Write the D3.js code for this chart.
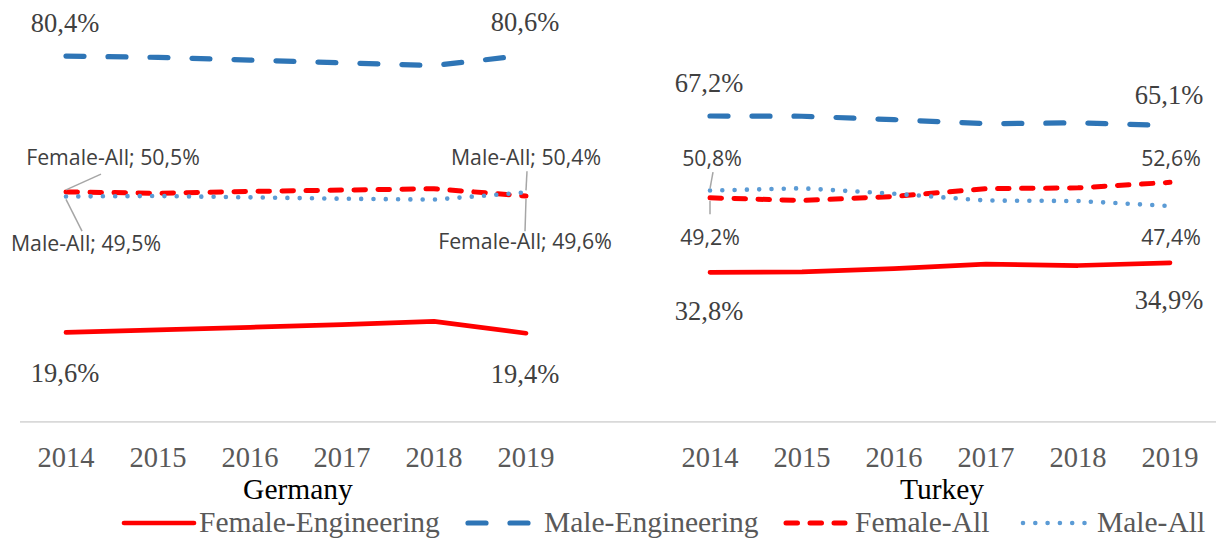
<!doctype html>
<html lang="en">
<head>
<meta charset="utf-8">
<title>Engineering share Germany / Turkey</title>
<script src="https://cdn.jsdelivr.net/npm/d3@7"></script>
<style>
  body { margin: 0; background: #fff; }
  svg { display: block; }
</style>
</head>
<body>
<script>

// categories
var years = ["2014", "2015", "2016", "2017", "2018", "2019"];
var countries = ["Germany", "Turkey"];

// series values, in percent
var femaleEngGermany = [19.6, 20.15, 20.7, 21.3, 22.0, 19.4];
var maleEngGermany   = [80.4, 80.1, 79.5, 78.9, 78.3, 80.6];
var femaleAllGermany = [50.5, 50.2, 50.6, 50.9, 51.2, 49.6];
var maleAllGermany   = [49.5, 49.6, 49.3, 49.0, 48.8, 50.4];

var femaleEngTurkey = [32.8, 32.9, 33.6, 34.6, 34.3, 34.9];
var maleEngTurkey   = [67.2, 67.15, 66.4, 65.5, 65.7, 65.1];
var femaleAllTurkey = [49.2, 48.6, 49.5, 51.2, 51.4, 52.6];
var maleAllTurkey   = [50.8, 51.3, 50.1, 48.6, 48.5, 47.4];

var seriesNames = ["Female-Engineering", "Male-Engineering", "Female-All", "Male-All"];

var width = 1216;
var height = 543;

var styles = {
    "Female-Engineering": { color: "#FF0000", w: 4.7, dash: null },
    "Male-Engineering":   { color: "#2E75B6", w: 5.2, dash: "18,24" },
    "Female-All":         { color: "#FF0000", w: 5.0, dash: "11.5,12.5" },
    "Male-All":           { color: "#5B9BD5", w: 4.6, dash: "0,12.3" }
};

var data = {
    "Germany": {
        "Female-Engineering": femaleEngGermany,
        "Male-Engineering": maleEngGermany,
        "Female-All": femaleAllGermany,
        "Male-All": maleAllGermany
    },
    "Turkey": {
        "Female-Engineering": femaleEngTurkey,
        "Male-Engineering": maleEngTurkey,
        "Female-All": femaleAllTurkey,
        "Male-All": maleAllTurkey
    }
};

// one category axis, with an empty slot between the two countries
var slots = years.map(function(y){ return "Germany|" + y; })
    .concat(["gap"])
    .concat(years.map(function(y){ return "Turkey|" + y; }));

var x = d3.scaleBand().domain(slots).range([20, 1216]).paddingInner(0).paddingOuter(0);
var y = d3.scaleLinear().domain([0, 90]).range([421.4, 12.4]);

function px(country, i) { return x(country + "|" + years[i]) + x.bandwidth() / 2; }

var svg = d3.select("body").append("svg").attr("width", width).attr("height", height);

// category axis line
svg.append("line")
    .attr("x1", x.range()[0]).attr("x2", x.range()[1])
    .attr("y1", y(0) + 0.5).attr("y2", y(0) + 0.5)
    .attr("stroke", "#D9D9D9").attr("stroke-width", 1.6);

var serif = "'Liberation Serif', 'Times New Roman', serif";
var sans = "'Open Sans', 'Noto Sans', sans-serif";

// year labels and country names
countries.forEach(function(c){
    svg.selectAll(null).data(years).enter().append("text")
        .attr("x", function(d, i){ return px(c, i); })
        .attr("y", 467)
        .attr("text-anchor", "middle")
        .attr("font-family", serif).attr("font-size", 28.5)
        .attr("fill", "#595959")
        .text(function(d){ return d; });

    svg.append("text")
        .attr("x", (px(c, 0) + px(c, 5)) / 2 + 2)
        .attr("y", 499)
        .attr("text-anchor", "middle")
        .attr("font-family", serif).attr("font-size", 29.5)
        .attr("fill", "#000")
        .text(c);
});

// lines
var line = d3.line()
    .x(function(d){ return d.x; })
    .y(function(d){ return y(d.v); });

countries.forEach(function(c){
    seriesNames.forEach(function(s){
        var pts = data[c][s].map(function(v, i){ return { x: px(c, i), v: v }; });
        var st = styles[s];
        svg.append("path")
            .datum(pts)
            .attr("d", line)
            .attr("fill", "none")
            .attr("stroke", st.color)
            .attr("stroke-width", st.w)
            .attr("stroke-linecap", "round")
            .attr("stroke-linejoin", "round")
            .attr("stroke-dasharray", st.dash);
    });
});

function fmt(v) { return d3.format(".1f")(v).replace(".", ",") + "%"; }

// serif end labels for engineering series
var engLabels = [
    { c: "Germany", s: "Male-Engineering", i: 0, dy: -24 },
    { c: "Germany", s: "Male-Engineering", i: 5, dy: -24 },
    { c: "Germany", s: "Female-Engineering", i: 0, dy: 50 },
    { c: "Germany", s: "Female-Engineering", i: 5, dy: 50 },
    { c: "Turkey", s: "Male-Engineering", i: 0, dy: -24 },
    { c: "Turkey", s: "Male-Engineering", i: 5, dy: -22 },
    { c: "Turkey", s: "Female-Engineering", i: 0, dy: 48 },
    { c: "Turkey", s: "Female-Engineering", i: 5, dy: 46 }
];

svg.selectAll(null).data(engLabels).enter().append("text")
    .attr("x", function(d){ return px(d.c, d.i) - 1; })
    .attr("y", function(d){ return y(data[d.c][d.s][d.i]) + d.dy; })
    .attr("text-anchor", "middle")
    .attr("font-family", serif).attr("font-size", 26.5)
    .attr("fill", "#404040")
    .text(function(d){ return fmt(data[d.c][d.s][d.i]); });

// sans labels for the "All" series, with leader lines
var rowAbove = y(50) - 29;
var rowBelow = y(50) + 57;

var allLabels = [
    { c: "Germany", s: "Female-All", i: 0, name: true, ly: rowAbove, dx: 47, lead: [35, 9] },
    { c: "Germany", s: "Male-All", i: 0, name: true, ly: rowBelow, dx: 20, lead: [16, -20] },
    { c: "Germany", s: "Male-All", i: 5, name: true, ly: rowAbove, dx: 0, lead: [1, 6] },
    { c: "Germany", s: "Female-All", i: 5, name: true, ly: rowBelow - 2, dx: -1, lead: [-1, -18] },
    { c: "Turkey", s: "Male-All", i: 0, name: false, ly: rowAbove + 1, dx: 2, lead: [3, 6] },
    { c: "Turkey", s: "Female-All", i: 0, name: false, ly: rowBelow - 6, dx: 0, lead: [0, -31] },
    { c: "Turkey", s: "Female-All", i: 5, name: false, ly: rowAbove + 1, dx: 1, lead: null },
    { c: "Turkey", s: "Male-All", i: 5, name: false, ly: rowBelow - 6, dx: 1, lead: null }
];

allLabels.forEach(function(d){
    var v = data[d.c][d.s][d.i];
    var x0 = px(d.c, d.i);
    var y0 = y(v);
    if (d.lead) {
        var below = d.ly > y0;
        svg.append("line")
            .attr("x1", x0).attr("y1", y0 + (below ? 3 : -2))
            .attr("x2", x0 + d.lead[0]).attr("y2", d.ly + d.lead[1])
            .attr("stroke", "#A6A6A6").attr("stroke-width", 1.5);
    }
    svg.append("text")
        .attr("x", x0 + d.dx)
        .attr("y", d.ly)
        .attr("text-anchor", "middle")
        .attr("font-family", sans).attr("font-size", 21.3)
        .attr("fill", "#404040")
        .text((d.name ? d.s + "; " : "") + fmt(v));
});

// legend
var legendLineX = [[122, 196], [466, 531], [784, 847], [1021, 1087]];
var legendTextX = [199, 544, 855, 1097];

var lg = svg.selectAll(null).data(seriesNames).enter().append("g");

lg.append("line")
    .attr("x1", function(d, i){ return legendLineX[i][0] + 2; })
    .attr("x2", function(d, i){ return legendLineX[i][1] - 2; })
    .attr("y1", 523).attr("y2", 523)
    .attr("stroke", function(d){ return styles[d].color; })
    .attr("stroke-width", function(d){ return styles[d].w; })
    .attr("stroke-linecap", "round")
    .attr("stroke-dasharray", function(d){ return styles[d].dash; });

lg.append("text")
    .attr("x", function(d, i){ return legendTextX[i]; })
    .attr("y", 532)
    .attr("font-family", serif).attr("font-size", 29.5)
    .attr("fill", "#595959")
    .text(function(d){ return d; });

</script>
</body>
</html>
